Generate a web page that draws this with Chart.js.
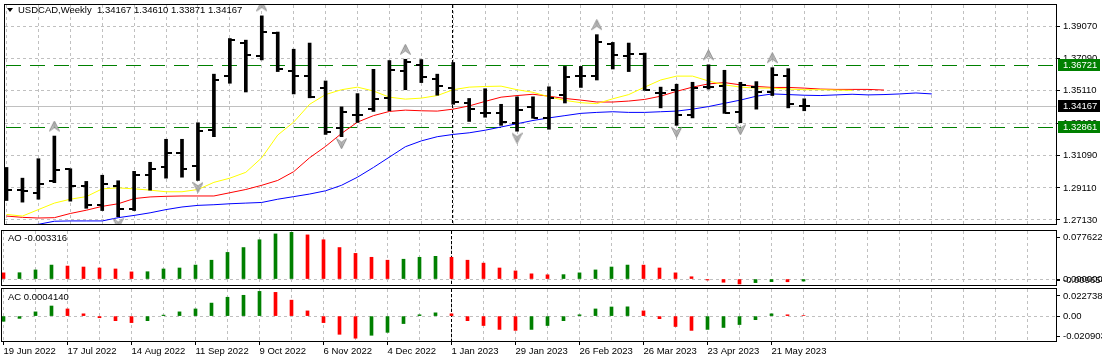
<!DOCTYPE html>
<html>
<head>
<meta charset="utf-8">
<script src="https://cdn.jsdelivr.net/npm/chart.js@4.4.0/dist/chart.umd.min.js"></script>
<style>
  body { margin: 0; background: #fff; width: 1102px; height: 362px; overflow: hidden; position: relative;
         font-family: "Liberation Sans", Arial, sans-serif; }
  canvas { position: absolute; left: 0; }
  #main { top: 0; }
  #ao { top: 229px; }
  #ac { top: 287px; }
  .lbl { position: absolute; font-size: 9.5px; line-height: 11px; color: #000; white-space: pre; }
  .tri { position: absolute; left: 7px; top: 8px; width: 0; height: 0;
         border-left: 3.5px solid transparent; border-right: 3.5px solid transparent; border-top: 4px solid #000; }
</style>
</head>
<body>
<canvas id="main" width="1102" height="229"></canvas>
<canvas id="ao" width="1102" height="58"></canvas>
<canvas id="ac" width="1102" height="75"></canvas>
<div class="tri"></div>
<div id="hdr" class="lbl" style="left:18px;top:4px"></div>
<div id="aoLbl" class="lbl" style="left:8px;top:232px"></div>
<div id="acLbl" class="lbl" style="left:8px;top:291px"></div>
<script>
// weekly USDCAD bars, 19 Jun 2022 .. 4 Jun 2023
const opens = [1.2907, 1.2897, 1.2881, 1.2955, 1.3025, 1.2921, 1.2803, 1.2923, 1.2783, 1.2991,
  1.3039, 1.3129, 1.3045, 1.3267, 1.3603, 1.3807, 1.3725, 1.3869, 1.3631, 1.3603,
  1.3527, 1.3279, 1.3363, 1.3399, 1.3465, 1.3631, 1.3671, 1.3585, 1.3525, 1.3437,
  1.3375, 1.3373, 1.3313, 1.3413, 1.3345, 1.3483, 1.3599, 1.3601, 1.3797, 1.3725,
  1.3735, 1.3497, 1.3515, 1.3363, 1.3535, 1.3541, 1.3379, 1.3531, 1.3501, 1.3601, 1.34167];
const highs = [1.3037, 1.2971, 1.3091, 1.3231, 1.3029, 1.2951, 1.2989, 1.2955, 1.3013, 1.3069,
  1.3211, 1.3211, 1.3313, 1.3613, 1.3833, 1.3823, 1.3973, 1.3873, 1.3767, 1.3805,
  1.3571, 1.3411, 1.3493, 1.3643, 1.3697, 1.3705, 1.3703, 1.3613, 1.3685, 1.3463,
  1.3523, 1.3427, 1.3473, 1.3473, 1.3535, 1.3661, 1.3661, 1.3857, 1.3809, 1.3805,
  1.3743, 1.3533, 1.3551, 1.3563, 1.3671, 1.3637, 1.3563, 1.3567, 1.3653, 1.3647, 1.34610];
const lows = [1.2833, 1.2823, 1.2841, 1.2943, 1.2829, 1.2785, 1.2771, 1.2733, 1.2771, 1.2897,
  1.2971, 1.2977, 1.2957, 1.3227, 1.3557, 1.3503, 1.3701, 1.3629, 1.3491, 1.3467,
  1.3241, 1.3227, 1.3315, 1.3383, 1.3387, 1.3517, 1.3561, 1.3483, 1.3427, 1.3321,
  1.3347, 1.3297, 1.3261, 1.3341, 1.3273, 1.3435, 1.3531, 1.3577, 1.3645, 1.3629,
  1.3513, 1.3405, 1.3297, 1.3343, 1.3521, 1.3371, 1.3313, 1.3397, 1.3481, 1.3405, 1.33871];
const closes = [1.2897, 1.2891, 1.2937, 1.3021, 1.2925, 1.2803, 1.2937, 1.2783, 1.2991, 1.3029,
  1.3125, 1.3025, 1.3261, 1.3579, 1.3827, 1.3731, 1.3873, 1.3643, 1.3603, 1.3473,
  1.3255, 1.3381, 1.3363, 1.3461, 1.3641, 1.3687, 1.3593, 1.3541, 1.3441, 1.3395,
  1.3375, 1.3315, 1.3393, 1.3345, 1.3465, 1.3597, 1.3599, 1.3813, 1.3731, 1.3737,
  1.3517, 1.3497, 1.3361, 1.3529, 1.3535, 1.3373, 1.3549, 1.3501, 1.3607, 1.3427, 1.34167];

// alligator lines (lips / teeth / jaw), they run past the last bar
const lips = [1.2747, 1.2737, 1.2777, 1.2817, 1.2841, 1.2857, 1.2905, 1.2911, 1.2905, 1.2897,
  1.2887, 1.2887, 1.2901, 1.2945, 1.2971, 1.3007, 1.3097, 1.3237, 1.3317, 1.3427,
  1.3487, 1.3517, 1.3533, 1.3509, 1.3471, 1.3459, 1.3465, 1.3481, 1.3517, 1.3533,
  1.3537, 1.3539, 1.3517, 1.3501, 1.3473, 1.3451, 1.3437, 1.3431, 1.3461, 1.3487,
  1.3533, 1.3577, 1.3601, 1.3601, 1.3571, 1.3547, 1.3533, 1.3527, 1.3527, 1.3521,
  1.3517, 1.3517, 1.3515, 1.3513];
const teeth = [1.2737, 1.2729, 1.2725, 1.2727, 1.2753, 1.2773, 1.2797, 1.2813, 1.2845, 1.2855,
  1.2859, 1.2861, 1.2861, 1.2861, 1.2881, 1.2901, 1.2927, 1.2957, 1.3011, 1.3097,
  1.3167, 1.3247, 1.3317, 1.3357, 1.3383, 1.3391, 1.3387, 1.3385, 1.3397, 1.3417,
  1.3445, 1.3471, 1.3481, 1.3489, 1.3477, 1.3463, 1.3453, 1.3441, 1.3441, 1.3447,
  1.3457, 1.3477, 1.3507, 1.3533, 1.3553, 1.3561, 1.3547, 1.3537, 1.3531, 1.3531,
  1.3527, 1.3521, 1.3519, 1.3519, 1.3519, 1.3515];
const jaw = [1.2674, 1.2680, 1.2686, 1.2705, 1.2707, 1.2707, 1.2707, 1.2727, 1.2741, 1.2757,
  1.2777, 1.2793, 1.2803, 1.2807, 1.2813, 1.2817, 1.2821, 1.2841, 1.2857, 1.2873,
  1.2893, 1.2927, 1.2977, 1.3037, 1.3101, 1.3165, 1.3201, 1.3227, 1.3241, 1.3251,
  1.3267, 1.3287, 1.3307, 1.3327, 1.3343, 1.3357, 1.3371, 1.3377, 1.3381, 1.3377,
  1.3377, 1.3381, 1.3385, 1.3397, 1.3413, 1.3433, 1.3453, 1.3477, 1.3491, 1.3487,
  1.3483, 1.3481, 1.3485, 1.3489, 1.3485, 1.3487, 1.3491, 1.3497, 1.3491];

const upFractals = [3, 16, 25, 37, 44, 48];
const downFractals = [7, 12, 21, 32, 42, 46];

const aoValues = [0.00997, 0.0102, 0.01469, 0.02255, 0.02098, 0.01941, 0.01783, 0.01626, 0.01154, 0.0118,
  0.01626, 0.01783, 0.02255, 0.03042, 0.04301, 0.05088, 0.06346, 0.0729, 0.0755, 0.07133,
  0.06346, 0.05088, 0.04144, 0.03514, 0.03042, 0.032, 0.03514, 0.03672, 0.03514, 0.03042,
  0.0257, 0.01783, 0.01311, 0.00839, 0.00682, 0.0071, 0.00997, 0.01469, 0.01941, 0.02255,
  0.0225, 0.01783, 0.00997, 0.00367, -0.0016, -0.0052, -0.0080, -0.0058, -0.0042, -0.0044, -0.003316];
const acValues = [-0.00436, -0.00191, 0.00355, 0.00846, 0.006, 0.00191, -0.00136, -0.00382, -0.00546, -0.00382,
  0.00082, 0.00355, 0.006, 0.01091, 0.01582, 0.01746, 0.02073, 0.01991, 0.01337, 0.00436,
  -0.00546, -0.01528, -0.01855, -0.0161, -0.01364, -0.00627, 0.00109, 0.00273, 0.00191, -0.00382,
  -0.00791, -0.01118, -0.012, -0.01118, -0.00791, -0.00382, 0.00109, 0.006, 0.00764, 0.00777,
  0.00436, -0.00218, -0.00873, -0.012, -0.01118, -0.00955, -0.00709, -0.003, 0.00191, 0.00109, 0.000414];

const dateLabels = ['19 Jun 2022', '17 Jul 2022', '14 Aug 2022', '11 Sep 2022', '9 Oct 2022', '6 Nov 2022',
  '4 Dec 2022', '1 Jan 2023', '29 Jan 2023', '26 Feb 2023', '26 Mar 2023', '23 Apr 2023', '21 May 2023'];
const priceTicks = [1.27130, 1.29110, 1.31090, 1.33100, 1.35110, 1.37090, 1.39070];
const levelLines = [1.36721, 1.32861];
const lastPrice = 1.34167;
const yearBreaks = [28];
const aoRange = [-0.009654, 0.077622];
const acRange = [-0.020903, 0.0227389];
const aoAxisLabels = ['-0.009654', '0.000000', '0.077622'];
const acAxisLabels = ['-0.020903', '0.00', '0.0227389'];

// ---- layout bits
const X_MIN = -0.09375, X_MAX = 65.78125;
const GRID = '#c0c0c0';
const UP = '#008000', DOWN = '#ff0000';
const gridBars = [];
for (let v = 0; v <= 64; v += 2) gridBars.push(v);

Chart.defaults.font = { family: '"Liberation Sans", Arial, sans-serif', size: 9.5 };
Chart.defaults.color = '#000';
Chart.defaults.animation = false;
Chart.defaults.plugins.legend.display = false;
Chart.defaults.plugins.tooltip.enabled = false;

document.getElementById('hdr').textContent = 'USDCAD,Weekly  ' +
  [opens, highs, lows, closes].map(a => a[a.length - 1].toFixed(5)).join(' ');
document.getElementById('aoLbl').textContent = 'AO ' + aoValues[aoValues.length - 1].toFixed(6);
document.getElementById('acLbl').textContent = 'AC ' + acValues[acValues.length - 1].toFixed(7);

function tickImg(left) {
  const c = document.createElement('canvas');
  c.width = 11; c.height = 2;
  const g = c.getContext('2d');
  g.fillStyle = '#000';
  g.fillRect(left ? 0 : 6, 0, 5, 2);
  return c;
}

function arrowImg(up, gap) {
  const s = 11, c = document.createElement('canvas');
  c.width = s; c.height = s + gap * 2;
  const g = c.getContext('2d');
  if (!up) {
    g.translate(0, gap * 2 + s);
    g.scale(1, -1);
  }
  g.beginPath();
  g.moveTo(5.5, 0.5); g.lineTo(10.5, 10.5); g.lineTo(5.5, 7); g.lineTo(0.5, 10.5); g.closePath();
  const grad = g.createLinearGradient(0, 0, s, 0);
  grad.addColorStop(0, '#f0f0f0'); grad.addColorStop(0.5, '#a8a8a8'); grad.addColorStop(1, '#e4e4e4');
  g.fillStyle = grad; g.fill();
  g.strokeStyle = '#909090'; g.lineWidth = 1; g.stroke();
  return c;
}

function upDownColors(vals) {
  return vals.map((v, i) => (i === 0 ? (vals === aoValues ? DOWN : UP) : (v > vals[i - 1] ? UP : DOWN)));
}

// no extra room for labels hanging over the plot edges
function noPad(s) {
  s.paddingTop = 0; s.paddingBottom = 0; s.paddingLeft = 0; s.paddingRight = 0;
}

// ---- plugins
const frame = {
  id: 'frame',
  afterDraw(chart) {
    const { ctx, chartArea: a } = chart;
    ctx.save();
    ctx.strokeStyle = '#000';
    ctx.lineWidth = 1;
    ctx.strokeRect(a.left - 0.5, a.top - 0.5, a.right - a.left + 1, a.bottom - a.top + 1);
    ctx.restore();
  }
};

const separators = {
  id: 'separators',
  beforeDatasetsDraw(chart) {
    const { ctx, chartArea: a, scales } = chart;
    ctx.save();
    ctx.strokeStyle = '#000';
    ctx.setLineDash([3, 2]);
    yearBreaks.forEach(i => {
      const x = Math.round(scales.x.getPixelForValue(i)) - 0.5;
      ctx.beginPath(); ctx.moveTo(x, a.top); ctx.lineTo(x, a.bottom); ctx.stroke();
    });
    ctx.restore();
  }
};

const levels = {
  id: 'levels',
  beforeDatasetsDraw(chart) {
    const { ctx, chartArea: a, scales } = chart;
    ctx.save();
    ctx.lineWidth = 1;
    let y = Math.round(scales.y.getPixelForValue(lastPrice)) + 0.5;
    ctx.strokeStyle = '#c0c0c0';
    ctx.beginPath(); ctx.moveTo(a.left, y); ctx.lineTo(a.right, y); ctx.stroke();
    ctx.strokeStyle = '#008000';
    ctx.setLineDash([15, 9]);
    levelLines.forEach(v => {
      y = Math.round(scales.y.getPixelForValue(v)) + 0.5;
      ctx.beginPath(); ctx.moveTo(a.left + 1, y); ctx.lineTo(a.right, y); ctx.stroke();
    });
    ctx.restore();
  },
  afterDraw(chart) {
    const { ctx, chartArea: a, scales } = chart;
    ctx.save();
    ctx.font = '9.5px "Liberation Sans", Arial, sans-serif';
    ctx.textBaseline = 'middle';
    const tags = levelLines.map(v => [v, '#008000']).concat([[lastPrice, '#000']]);
    tags.forEach(([v, col]) => {
      const y = Math.round(scales.y.getPixelForValue(v));
      ctx.fillStyle = col;
      ctx.fillRect(a.right + 2, y - 6, 42, 12);
      ctx.fillStyle = '#fff';
      ctx.fillText(v.toFixed(5), a.right + 7, y + 0.5);
    });
    ctx.restore();
  }
};

function xAxis(showLabels) {
  return {
    type: 'linear', min: X_MIN, max: X_MAX, offset: false,
    afterBuildTicks: s => { s.ticks = gridBars.map(v => ({ value: v })); },
    afterFit: s => { s.height = showLabels ? 21 : 0; noPad(s); },
    grid: {
      color: GRID, offset: false, drawTicks: showLabels, tickLength: 4, tickBorderDash: [],
      tickColor: c => (c.tick && c.tick.value % 4 === 0 && dateLabels[c.tick.value / 4]) ? '#000' : 'rgba(0,0,0,0)'
    },
    border: { display: false, dash: [3, 3] },
    ticks: {
      display: showLabels, autoSkip: false, maxRotation: 0, minRotation: 0, align: 'start', padding: 1,
      callback: v => (v % 4 === 0 && dateLabels[v / 4]) || ''
    }
  };
}

function panelY(range, labels, topGap, bottomGap, bottomIsBelowZero) {
  return {
    position: 'right', min: range[0], max: range[1],
    afterFit: s => { s.width = 46; noPad(s); },
    afterBuildTicks: s => {
      const per = (s.max - s.min) / (s.height || 53);
      const low = bottomIsBelowZero ? -bottomGap * per : s.min + bottomGap * per;
      s.ticks = [{ value: low }, { value: 0 }, { value: s.max - topGap * per }];
    },
    grid: { color: c => (c.index === 1 ? GRID : 'rgba(0,0,0,0)'), tickColor: '#000', tickLength: 4, tickBorderDash: [] },
    border: { display: false, dash: [3, 3] },
    ticks: { autoSkip: false, padding: 3, callback: (v, i) => labels[i] }
  };
}

// ---- main price panel
new Chart(document.getElementById('main'), {
  type: 'bar',
  data: {
    datasets: [
      {
        type: 'line', order: 0, showLine: false, pointStyle: arrowImg(true, 10),
        data: upFractals.map(i => ({ x: i, y: highs[i] }))
      },
      {
        type: 'line', order: 0, showLine: false, pointStyle: arrowImg(false, 7),
        data: downFractals.map(i => ({ x: i, y: lows[i] }))
      },
      {
        type: 'line', order: 1, showLine: false, pointStyle: tickImg(true),
        data: opens.map((v, i) => ({ x: i, y: v }))
      },
      {
        type: 'line', order: 1, showLine: false, pointStyle: tickImg(false),
        data: closes.map((v, i) => ({ x: i, y: v }))
      },
      {
        type: 'bar', order: 2, barThickness: 3, grouped: false, backgroundColor: '#000', borderWidth: 0,
        data: highs.map((h, i) => ({ x: i, y: [lows[i], h] }))
      },
      {
        type: 'line', order: 3, borderColor: '#ffff00', borderWidth: 1, pointRadius: 0, tension: 0,
        data: lips.map((v, i) => ({ x: i, y: v }))
      },
      {
        type: 'line', order: 4, borderColor: '#ff0000', borderWidth: 1, pointRadius: 0, tension: 0,
        data: teeth.map((v, i) => ({ x: i, y: v }))
      },
      {
        type: 'line', order: 5, borderColor: '#0000ff', borderWidth: 1, pointRadius: 0, tension: 0,
        data: jaw.map((v, i) => ({ x: i, y: v }))
      }
    ]
  },
  options: {
    responsive: false,
    layout: { padding: { left: 2, top: 3, bottom: 1, right: 0 } },
    scales: {
      x: xAxis(false),
      y: {
        position: 'right', min: 1.2688, max: 1.4040,
        afterFit: s => { s.width = 46; noPad(s); },
        afterBuildTicks: s => { s.ticks = priceTicks.map(v => ({ value: v })); },
        grid: { color: GRID, tickColor: '#000', tickLength: 4, tickBorderDash: [] },
        border: { display: false, dash: [3, 3] },
        ticks: { autoSkip: false, padding: 3, callback: v => v.toFixed(5) }
      }
    }
  },
  plugins: [levels, separators, frame]
});

// ---- Awesome Oscillator
new Chart(document.getElementById('ao'), {
  type: 'bar',
  data: {
    datasets: [{
      barThickness: 3, borderWidth: 0, grouped: false,
      backgroundColor: upDownColors(aoValues),
      data: aoValues.map((v, i) => ({ x: i, y: v }))
    }]
  },
  options: {
    responsive: false,
    layout: { padding: { left: 2, top: 2, bottom: 2, right: 0 } },
    scales: {
      x: xAxis(false),
      y: panelY(aoRange, aoAxisLabels, 6, 1, true)
    }
  },
  plugins: [separators, frame]
});

// ---- Accelerator Oscillator + date axis
new Chart(document.getElementById('ac'), {
  type: 'bar',
  data: {
    datasets: [{
      barThickness: 3, borderWidth: 0, grouped: false,
      backgroundColor: upDownColors(acValues),
      data: acValues.map((v, i) => ({ x: i, y: v }))
    }]
  },
  options: {
    responsive: false,
    layout: { padding: { left: 2, top: 2, bottom: 0, right: 0 } },
    scales: {
      x: xAxis(true),
      y: panelY(acRange, acAxisLabels, 7, 5, false)
    }
  },
  plugins: [separators, frame]
});
</script>
</body>
</html>
